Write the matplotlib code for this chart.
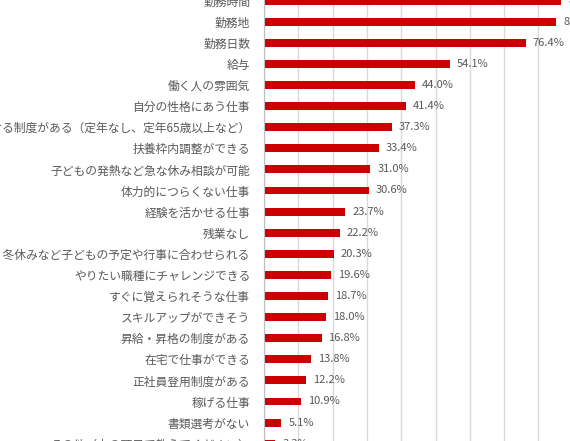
import matplotlib
matplotlib.use("Agg")
import matplotlib.pyplot as plt

plt.rcParams['font.family'] = ['Noto Sans CJK JP', 'DejaVu Sans']

# items and share of respondents (%)
items = [
    '勤務時間',
    '勤務地',
    '勤務日数',
    '給与',
    '働く人の雰囲気',
    '自分の性格にあう仕事',
    '長く働ける制度がある（定年なし、定年65歳以上など）',
    '扶養枠内調整ができる',
    '子どもの発熱など急な休み相談が可能',
    '体力的につらくない仕事',
    '経験を活かせる仕事',
    '残業なし',
    '夏・冬休みなど子どもの予定や行事に合わせられる',
    'やりたい職種にチャレンジできる',
    'すぐに覚えられそうな仕事',
    'スキルアップができそう',
    '昇給・昇格の制度がある',
    '在宅で仕事ができる',
    '正社員登用制度がある',
    '稼げる仕事',
    '書類選考がない',
    'その他（上の項目で教えてください）',
]
values = [86.7, 85.2, 76.4, 54.1, 44.0, 41.4, 37.3, 33.4, 31.0, 30.6, 23.7,
          22.2, 20.3, 19.6, 18.7, 18.0, 16.8, 13.8, 12.2, 10.9, 5.1, 3.3]

W, H = 570, 441
fig = plt.figure(figsize=(W / 100, H / 100), dpi=100)

# the picture is a crop of a taller chart, so the axes run past the edges
row_px = 21.1
n = len(items)
top_px = 0.6 - row_px
height_px = (n + 1) * row_px
left_px = 264
width_px = 90 * 3.43
ax = fig.add_axes([left_px / W, 1 - (top_px + height_px) / H,
                   width_px / W, height_px / H])

y = list(range(n))
ax.barh(y, values, height=0.37, color='#CC0000', zorder=3)
ax.set_ylim(n, -1)
ax.set_xlim(0, 90)
ax.set_xticks(range(0, 91, 10))
ax.xaxis.grid(True, color='#D9D9D9', linewidth=1, zorder=0)
ax.tick_params(axis='x', bottom=False, labelbottom=False)
ax.tick_params(axis='y', length=0, pad=10)
ax.set_yticks(y)
ax.set_yticklabels(items, fontsize=8.5, color='#595959')

for s in ['top', 'right', 'bottom']:
    ax.spines[s].set_visible(False)
ax.spines['left'].set_color('#BFBFBF')
ax.spines['left'].set_zorder(4)

for yi, v in zip(y, values):
    ax.text(v + 2.0, yi, f'{v:.1f}%', va='center', ha='left',
            fontsize=8, color='#595959')

fig.savefig('out.png', dpi=100)
